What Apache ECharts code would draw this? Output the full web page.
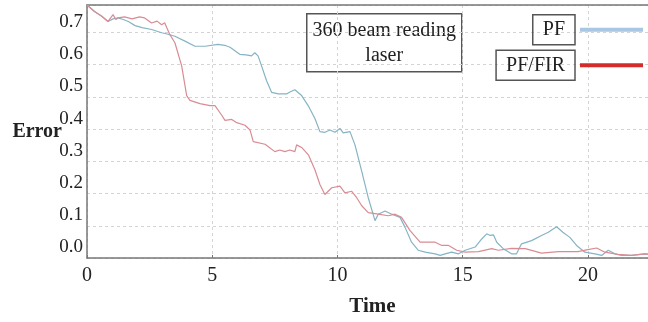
<!DOCTYPE html>
<html>
<head>
<meta charset="utf-8">
<script src="https://cdn.jsdelivr.net/npm/echarts@6/dist/echarts.min.js"></script>
<style>
html,body{margin:0;padding:0;background:#fff;}
#chart{width:648px;height:322px;}
</style>
</head>
<body>
<div id="chart"></div>
<script>
var xTicks = [0, 5, 10, 15, 20];
var yTicks = [0.0, 0.1, 0.2, 0.3, 0.4, 0.5, 0.6, 0.7];

var pfTime = [0, 0.3, 0.59, 0.84, 1.04, 1.24, 1.45, 1.65, 1.92, 2.2, 2.58, 2.98, 3.2, 3.51, 3.91, 4.31, 4.71, 5.23, 5.5, 5.71, 6.1, 6.35, 6.57, 6.7, 6.83, 6.97, 7.17, 7.37, 7.64, 7.97, 8.1, 8.3, 8.57, 8.83, 9.1, 9.3, 9.5, 9.7, 9.9, 10.1, 10.23, 10.5, 10.7, 10.97, 11.23, 11.5, 11.63, 11.9, 12.17, 12.5, 12.7, 12.96, 13.23, 13.5, 13.9, 14.1, 14.3, 14.56, 14.83, 15.1, 15.5, 15.76, 15.96, 16.1, 16.23, 16.36, 16.62, 16.95, 17.15, 17.35, 17.75, 18.15, 18.42, 18.75, 19.0, 19.28, 19.55, 19.88, 20.28, 20.55, 20.81, 21.08, 21.34, 21.74, 22.27, 22.4];
var pfError = [0.785, 0.765, 0.75, 0.734, 0.742, 0.745, 0.74, 0.734, 0.721, 0.715, 0.709, 0.699, 0.695, 0.688, 0.673, 0.657, 0.657, 0.663, 0.66, 0.654, 0.632, 0.63, 0.627, 0.637, 0.627, 0.596, 0.55, 0.514, 0.509, 0.509, 0.515, 0.522, 0.504, 0.473, 0.433, 0.392, 0.39, 0.397, 0.39, 0.402, 0.388, 0.392, 0.351, 0.269, 0.187, 0.116, 0.136, 0.146, 0.136, 0.126, 0.095, 0.049, 0.024, 0.018, 0.013, 0.008, 0.013, 0.018, 0.013, 0.024, 0.034, 0.059, 0.075, 0.07, 0.072, 0.049, 0.029, 0.013, 0.013, 0.044, 0.054, 0.07, 0.08, 0.097, 0.08, 0.064, 0.039, 0.018, 0.013, 0.008, 0.024, 0.013, 0.008, 0.008, 0.013, 0.012];

var firTime = [0, 0.3, 0.59, 0.84, 1.04, 1.15, 1.24, 1.5, 1.8, 2.1, 2.3, 2.58, 2.8, 2.98, 3.1, 3.31, 3.51, 3.78, 3.98, 4.11, 4.51, 4.91, 5.11, 5.38, 5.51, 5.78, 5.98, 6.31, 6.51, 6.64, 7.11, 7.5, 7.7, 7.9, 8.1, 8.3, 8.37, 8.57, 8.84, 9.1, 9.3, 9.5, 9.77, 10.1, 10.3, 10.57, 10.77, 10.97, 11.23, 11.63, 12.03, 12.3, 12.56, 12.9, 13.3, 13.5, 13.9, 14.17, 14.44, 14.76, 15.1, 15.63, 16.16, 16.43, 16.95, 17.5, 18.15, 18.82, 19.6, 20.0, 20.35, 20.68, 21.2, 21.74, 22.27, 22.4];
var firError = [0.785, 0.765, 0.75, 0.734, 0.755, 0.74, 0.745, 0.748, 0.742, 0.748, 0.745, 0.729, 0.735, 0.724, 0.73, 0.693, 0.668, 0.596, 0.504, 0.489, 0.479, 0.473, 0.473, 0.443, 0.427, 0.43, 0.42, 0.412, 0.397, 0.361, 0.353, 0.33, 0.335, 0.33, 0.335, 0.33, 0.351, 0.343, 0.32, 0.274, 0.228, 0.197, 0.218, 0.223, 0.202, 0.207, 0.187, 0.162, 0.141, 0.136, 0.131, 0.136, 0.126, 0.085, 0.049, 0.049, 0.049, 0.039, 0.039, 0.024, 0.018, 0.02, 0.029, 0.024, 0.03, 0.029, 0.015, 0.02, 0.02, 0.026, 0.031, 0.018, 0.011, 0.008, 0.013, 0.012];

function zip(a, b) { return a.map(function (v, i) { return [v, b[i]]; }); }

var serif = 'Liberation Serif';
var chart = echarts.init(document.getElementById('chart'));
chart.setOption({
  animation: false,
  backgroundColor: '#fff',
  grid: { left: 87, top: 5, right: 0, bottom: 61 },
  xAxis: [{
    type: 'value', min: 0, max: 22.4, interval: 5,
    name: 'Time', nameLocation: 'middle', nameGap: 38,
    nameTextStyle: { fontFamily: serif, fontWeight: 'bold', fontSize: 21, color: '#222', padding: [0, 0, 0, 10] },
    axisLine: { lineStyle: { color: '#777', width: 1.5 } },
    axisTick: { show: true, length: 3, inside: true, lineStyle: { color: '#777' } },
    axisLabel: { fontFamily: serif, fontSize: 20, color: '#222', margin: 8, showMaxLabel: false,
      formatter: function (v) { return xTicks.indexOf(v) >= 0 ? String(v) : ''; } },
    splitLine: { show: true, lineStyle: { color: '#d4d4d4', type: [3, 3], width: 1 } }
  }, {
    type: 'value', position: 'top', min: 0, max: 22.4,
    axisLine: { show: true, lineStyle: { color: '#777', width: 1.5 } },
    axisTick: { show: false }, axisLabel: { show: false }, splitLine: { show: false }
  }],
  yAxis: {
    type: 'value', min: 0, max: 0.785, interval: 0.1,
    name: 'Error', nameLocation: 'middle', nameRotate: 0, nameGap: 25, nameMoveOverlap: false,
    nameTextStyle: { fontFamily: serif, fontWeight: 'bold', fontSize: 20, color: '#222', align: 'right', verticalAlign: 'middle' },
    axisLine: { show: true, lineStyle: { color: '#777', width: 1.5 } },
    axisTick: { show: false },
    axisLabel: { fontFamily: serif, fontSize: 19, color: '#222', margin: 4, showMaxLabel: false,
      verticalAlign: 'bottom', padding: [0, 0, 1, 0],
      formatter: function (v) {
        var r = Math.round(v * 10) / 10;
        return yTicks.indexOf(r) >= 0 && Math.abs(r - v) < 1e-6 ? r.toFixed(1) : '';
      } },
    splitLine: { show: true, lineStyle: { color: '#d4d4d4', type: [3, 3], width: 1 } }
  },
  legend: {
    orient: 'vertical', right: 5, top: 14, itemGap: 4, align: 'right', padding: 0,
    icon: 'rect', itemWidth: 63, itemHeight: 4,
    textStyle: { fontFamily: serif, fontSize: 20, color: '#222', borderColor: '#555', borderWidth: 1.5,
      padding: [5, 10, 5, 10], lineHeight: 20 },
    data: [
      { name: 'PF', itemStyle: { color: '#a9c6e2' } },
      { name: 'PF/FIR', itemStyle: { color: '#d42b2b' } }
    ]
  },
  graphic: [{
    type: 'group', left: 306, top: 13,
    children: [
      { type: 'rect', shape: { x: 0, y: 0, width: 155, height: 58 },
        style: { fill: '#fff', stroke: '#555', lineWidth: 1.5 } },
      { type: 'text', x: 77.5, y: 29,
        style: { text: '360 beam reading\nlaser', fontFamily: serif, fontSize: 20, lineHeight: 25,
          fill: '#222', align: 'center', verticalAlign: 'middle' } }
    ]
  }],
  series: [
    { name: 'PF', type: 'line', showSymbol: false, data: zip(pfTime, pfError),
      lineStyle: { color: '#86b4c4', width: 1.2 }, itemStyle: { color: '#86b4c4' } },
    { name: 'PF/FIR', type: 'line', showSymbol: false, data: zip(firTime, firError),
      lineStyle: { color: '#d98c93', width: 1.2 }, itemStyle: { color: '#d98c93' } }
  ]
});
</script>
</body>
</html>
